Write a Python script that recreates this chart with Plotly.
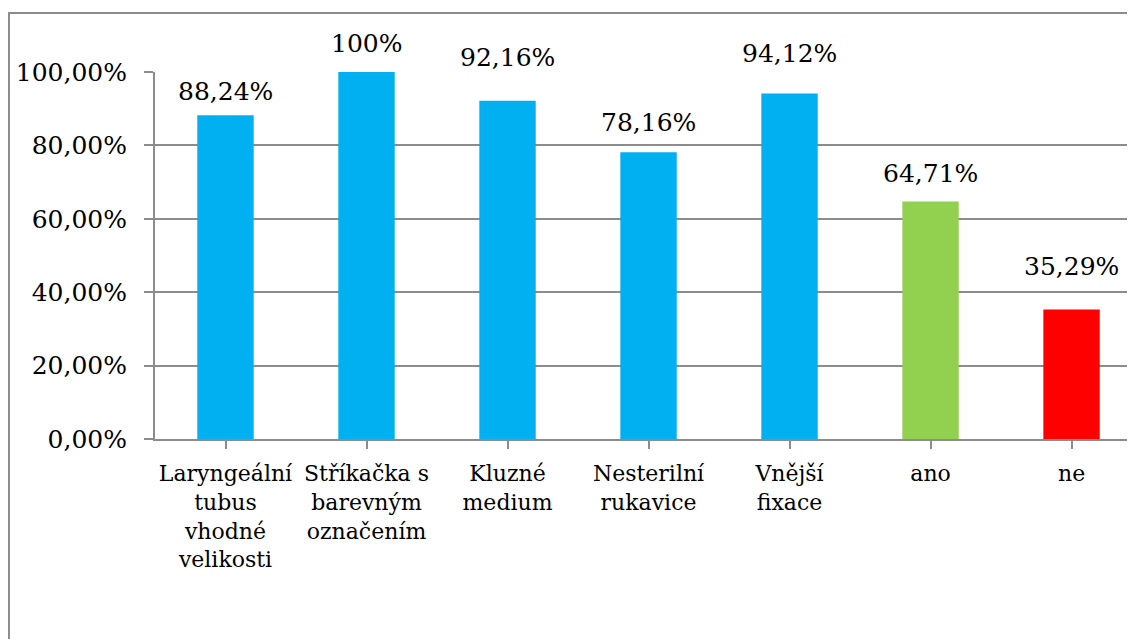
import plotly.graph_objects as go

# Data
categories = [
    "Laryngeální<br>tubus<br>vhodné<br>velikosti",
    "Stříkačka s<br>barevným<br>označením",
    "Kluzné<br>medium",
    "Nesterilní<br>rukavice",
    "Vnější<br>fixace",
    "ano",
    "ne",
]
values = [88.24, 100, 92.16, 78.16, 94.12, 64.71, 35.29]
value_labels = ["88,24%", "100%", "92,16%", "78,16%", "94,12%", "64,71%", "35,29%"]
bar_colors = ["#00B0F0"] * 5 + ["#92D050", "#FF0000"]

y_ticks = [0, 20, 40, 60, 80, 100]
y_tick_labels = ["0,00%", "20,00%", "40,00%", "60,00%", "80,00%", "100,00%"]

# data labels were nudged by hand in the original, lift above bar top in px
label_lift = [7, 12, 27, 13, 24, 12, 26]

FONT = "DejaVu Serif"
GRID = "#8C8C8C"

x_pos = list(range(len(categories)))

fig = go.Figure(
    go.Bar(
        x=x_pos,
        y=values,
        marker_color=bar_colors,
        marker_line_width=0,
        width=0.4,
        hoverinfo="skip",
    )
)

for xi, v, lab, lift in zip(x_pos, values, value_labels, label_lift):
    fig.add_annotation(
        x=xi, y=v, text=lab, showarrow=False,
        xanchor="center", yanchor="bottom", yshift=lift,
        font=dict(family=FONT, size=25, color="black"),
    )

# outer chart frame (runs off the right and bottom of the picture)
fig.add_shape(
    type="rect", xref="paper", yref="paper",
    x0=-0.149, x1=1.2, y0=-0.7, y1=1.161,
    line=dict(color=GRID, width=2), layer="below",
)

# page body has an 8px margin, so the plot area is offset to land where the reference has it
fig.update_layout(
    width=1135,
    height=639,
    margin=dict(l=147, r=8, t=64, b=208),
    plot_bgcolor="white",
    paper_bgcolor="white",
    showlegend=False,
    font=dict(family=FONT, size=22, color="black"),
)

fig.update_xaxes(
    range=[-0.5, 6.45],
    tickmode="array",
    tickvals=x_pos,
    ticktext=categories,
    tickson="boundaries",
    ticks="outside",
    ticklen=8,
    tickwidth=2,
    tickcolor=GRID,
    showline=True,
    linecolor=GRID,
    linewidth=2,
    showgrid=False,
    tickangle=0,
    automargin=False,
    ticklabelstandoff=6,
    tickfont=dict(family=FONT, size=22, color="black"),
)

fig.update_yaxes(
    range=[0, 100],
    tickmode="array",
    tickvals=y_ticks,
    ticktext=y_tick_labels,
    ticks="outside",
    ticklen=9,
    tickwidth=2,
    tickcolor=GRID,
    showline=True,
    linecolor=GRID,
    linewidth=2,
    showgrid=True,
    gridcolor=GRID,
    gridwidth=2,
    zeroline=False,
    automargin=False,
    ticklabelstandoff=12,
    tickfont=dict(family=FONT, size=25, color="black"),
)

fig.write_html("out.html")
